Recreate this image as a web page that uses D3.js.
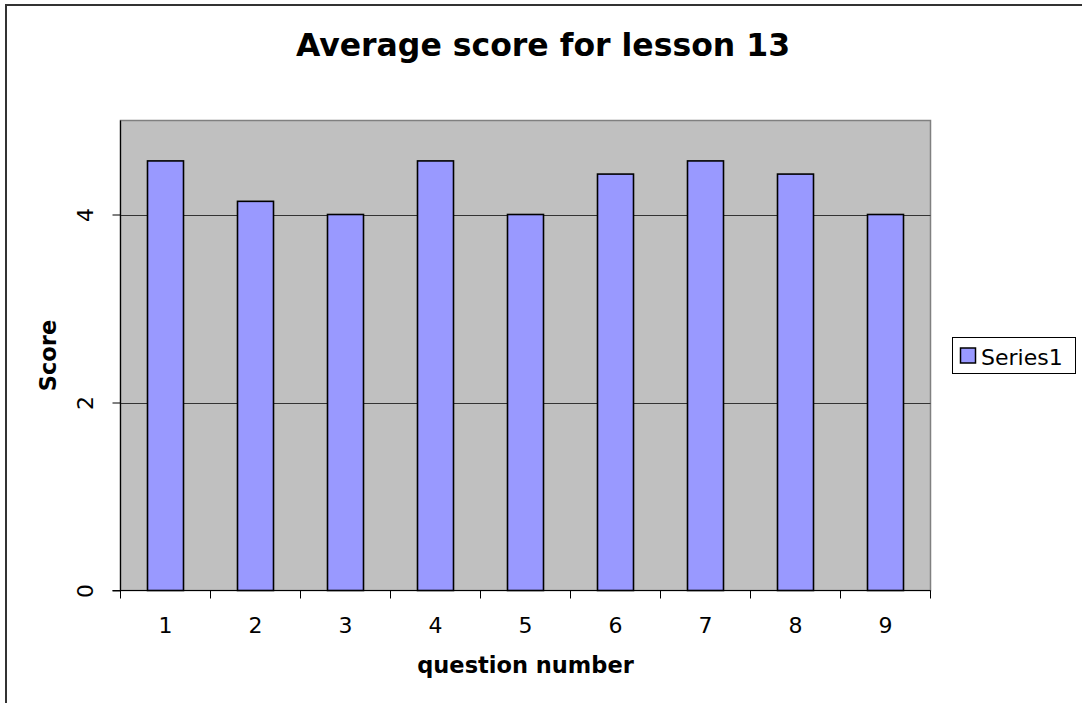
<!DOCTYPE html>
<html>
<head>
<meta charset="utf-8">
<script src="https://cdn.jsdelivr.net/npm/d3@7"></script>
<style>
  html, body { margin: 0; padding: 0; background: #fff; }
  svg { display: block; }
  text { font-family: "DejaVu Sans", Verdana, sans-serif; fill: #000; }
</style>
</head>
<body>
<script>
const categories = ["1", "2", "3", "4", "5", "6", "7", "8", "9"];
const seriesName = "Series1";
const seriesValues = [4.57, 4.14, 4.0, 4.57, 4.0, 4.43, 4.57, 4.43, 4.0];
const yTicks = [0, 2, 4];
const titleText = "Average score for lesson 13";
const xTitle = "question number";
const yTitle = "Score";

const W = 1082, H = 703;
const plot = { left: 120.5, top: 120.5, right: 930.5, bottom: 590.5 };
const FONT = '"DejaVu Sans", Verdana, sans-serif';

const svg = d3.select("body").append("svg").attr("width", W).attr("height", H);

// outer frame (extends past the canvas on right and bottom)
svg.append("rect")
  .attr("x", 6).attr("y", 5).attr("width", W + 20).attr("height", H + 20)
  .attr("fill", "#fff").attr("stroke", "#333").attr("stroke-width", 2);

const x = d3.scaleBand().domain(categories).range([plot.left, plot.right]).paddingInner(0).paddingOuter(0);
const y = d3.scaleLinear().domain([0, 5]).range([plot.bottom, plot.top]);

// plot background
svg.append("rect")
  .attr("x", plot.left).attr("y", plot.top)
  .attr("width", plot.right - plot.left).attr("height", plot.bottom - plot.top)
  .attr("fill", "#C0C0C0").attr("stroke", "#808080").attr("stroke-width", 1.5);

// gridlines
svg.append("g").selectAll("line").data(yTicks.filter(d => d > 0)).join("line")
  .attr("x1", plot.left).attr("x2", plot.right)
  .attr("y1", d => Math.round(y(d)) + 0.5).attr("y2", d => Math.round(y(d)) + 0.5)
  .attr("stroke", "#333").attr("stroke-width", 1);

// bars
const bw = x.bandwidth() / 2.5;
svg.append("g").selectAll("rect").data(seriesValues).join("rect")
  .attr("x", (d, i) => x(categories[i]) + (x.bandwidth() - bw) / 2)
  .attr("y", d => y(d))
  .attr("width", bw)
  .attr("height", d => y(0) - y(d))
  .attr("fill", "#9999FF").attr("stroke", "#000").attr("stroke-width", 1.6);

// y axis
const yAxis = d3.axisLeft(y).tickValues(yTicks).tickSize(8).tickPadding(0).tickFormat(d3.format("d"));
const gy = svg.append("g").attr("transform", `translate(${plot.left},0)`).call(yAxis);
gy.select(".domain").attr("stroke", "#000").attr("stroke-width", 1.2).attr("d", `M0,${plot.top}V${plot.bottom}`);
gy.selectAll(".tick line").attr("stroke", "#000");
gy.selectAll(".tick text")
  .attr("x", 0).attr("y", 0).attr("dy", null)
  .attr("text-anchor", "middle")
  .attr("transform", "translate(-35,0) rotate(-90)")
  .attr("dominant-baseline", "central")
  .attr("fill", "#000")
  .style("font-size", "22px").style("font-family", FONT);

// x axis
const xBounds = d3.range(categories.length + 1).map(i => plot.left + i * x.step());
const gx = svg.append("g");
gx.append("line").attr("x1", plot.left - 8).attr("x2", plot.right)
  .attr("y1", plot.bottom).attr("y2", plot.bottom).attr("stroke", "#000").attr("stroke-width", 1.2);
gx.selectAll("line.tk").data(xBounds).join("line").attr("class", "tk")
  .attr("x1", d => d).attr("x2", d => d).attr("y1", plot.bottom).attr("y2", plot.bottom + 8)
  .attr("stroke", "#000");
gx.selectAll("text").data(categories).join("text")
  .attr("x", d => x(d) + x.bandwidth() / 2).attr("y", 633)
  .attr("text-anchor", "middle").style("font-size", "22px").text(d => d);

// titles
svg.append("text").attr("x", 543).attr("y", 56).attr("text-anchor", "middle")
  .style("font-size", "31.5px").style("font-weight", "bold").text(titleText);
svg.append("text").attr("x", (plot.left + plot.right) / 2).attr("y", 673).attr("text-anchor", "middle")
  .style("font-size", "22.5px").style("font-weight", "bold").text(xTitle);
svg.append("text").attr("transform", `translate(56,${(plot.top + plot.bottom) / 2}) rotate(-90)`)
  .attr("text-anchor", "middle")
  .style("font-size", "22.5px").style("font-weight", "bold").text(yTitle);

// legend
const lg = svg.append("g");
lg.append("rect").attr("x", 952.5).attr("y", 337.5).attr("width", 123).attr("height", 36)
  .attr("fill", "#fff").attr("stroke", "#000").attr("stroke-width", 1);
lg.append("rect").attr("x", 960.5).attr("y", 348).attr("width", 15).attr("height", 15)
  .attr("fill", "#9999FF").attr("stroke", "#000").attr("stroke-width", 1.5);
lg.append("text").attr("x", 981).attr("y", 365).style("font-size", "22px").text(seriesName);
</script>
</body>
</html>
